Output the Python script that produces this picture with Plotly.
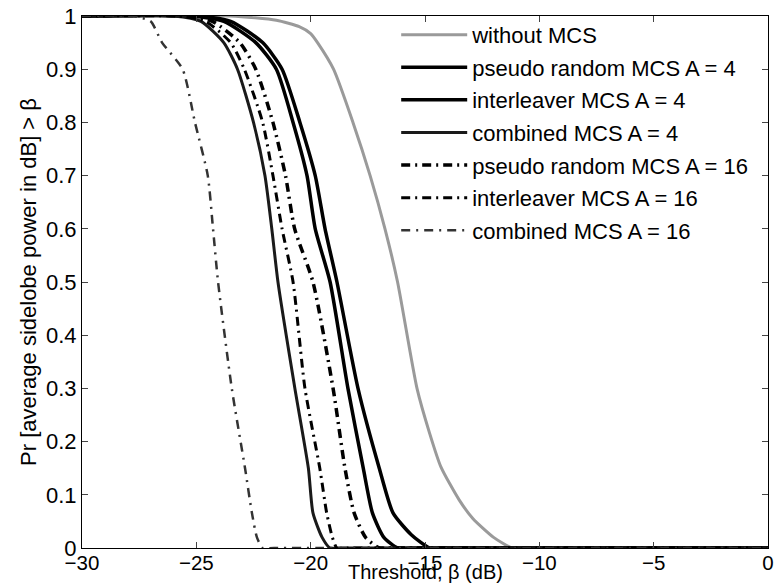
import plotly.graph_objects as go

# Threshold (dB) vs. probability that the average sidelobe power exceeds it
beta_without = [-30, -23.5, -21.5, -20.5, -20.0, -19.7, -19.0, -18.15, -17.4, -16.75, -16.2, -15.35, -14.8, -14.3, -13.5, -12.9, -12.0, -11.2, -10.6, 0]
p_without = [1, 1, 0.992, 0.98, 0.967, 0.95, 0.9, 0.8, 0.7, 0.6, 0.5, 0.3, 0.216, 0.152, 0.09, 0.055, 0.02, 0.0, 0, 0]

beta_pr4 = [-30, -25.0, -23.5, -22.1, -21.25, -20.47, -19.8, -19.37, -18.85, -17.93, -17.0, -16.4, -15.6, -14.8, -14.3, 0]
p_pr4 = [1, 1, 0.99, 0.95, 0.9, 0.8, 0.7, 0.6, 0.5, 0.3, 0.15, 0.066, 0.025, 0, 0, 0]

beta_il4 = [-30, -25.3, -23.8, -22.4, -21.5, -20.77, -20.16, -19.8, -19.15, -18.37, -17.7, -17.3, -16.8, -16.2, -15.7, 0]
p_il4 = [1, 1, 0.99, 0.95, 0.9, 0.8, 0.7, 0.6, 0.5, 0.3, 0.15, 0.066, 0.02, 0, 0, 0]

beta_cb4 = [-30, -26.0, -24.8, -23.8, -23.2, -22.5, -22.0, -21.7, -21.43, -20.69, -20.1, -19.9, -19.5, -19.15, -18.7, 0]
p_cb4 = [1, 1, 0.99, 0.95, 0.9, 0.8, 0.7, 0.6, 0.5, 0.3, 0.15, 0.066, 0.02, 0, 0, 0]

beta_pr16 = [-30, -25.6, -24.3, -23.1, -22.4, -21.65, -21.1, -20.7, -19.9, -19.02, -18.5, -18.1, -17.6, -17.0, -16.5, 0]
p_pr16 = [1, 1, 0.99, 0.95, 0.9, 0.8, 0.7, 0.6, 0.5, 0.3, 0.15, 0.066, 0.02, 0, 0, 0]

beta_il16 = [-30, -25.8, -24.6, -23.5, -22.9, -22.1, -21.65, -21.25, -20.77, -20.25, -19.6, -19.3, -19.05, -18.85, -18.4, 0]
p_il16 = [1, 1, 0.99, 0.95, 0.9, 0.8, 0.7, 0.6, 0.5, 0.3, 0.15, 0.066, 0.02, 0, 0, 0]

beta_cb16 = [-30, -27.8, -27.0, -26.5, -25.6, -25.06, -24.5, -24.27, -24.05, -23.45, -22.87, -22.57, -22.35, -22.1, -21.6, 0]
p_cb16 = [1, 1, 0.99, 0.95, 0.9, 0.8, 0.7, 0.6, 0.5, 0.3, 0.15, 0.066, 0.02, 0, 0, 0]

x_ticks = [-30, -25, -20, -15, -10, -5, 0]
y_ticks = [0, 0.1, 0.2, 0.3, 0.4, 0.5, 0.6, 0.7, 0.8, 0.9, 1]
y_labels = ["0", "0.1", "0.2", "0.3", "0.4", "0.5", "0.6", "0.7", "0.8", "0.9", "1"]

series = [
    ("without MCS", beta_without, p_without, dict(color="#9a9a9a", width=3)),
    ("pseudo random MCS A = 4", beta_pr4, p_pr4, dict(color="black", width=3.5)),
    ("interleaver MCS A = 4", beta_il4, p_il4, dict(color="black", width=3.5)),
    ("combined MCS A = 4", beta_cb4, p_cb4, dict(color="#1a1a1a", width=3)),
    ("pseudo random MCS A = 16", beta_pr16, p_pr16, dict(color="black", width=3.5, dash="9px,5px,2px,5px")),
    ("interleaver MCS A = 16", beta_il16, p_il16, dict(color="black", width=3, dash="9px,5px,2px,5px")),
    ("combined MCS A = 16", beta_cb16, p_cb16, dict(color="#333333", width=2.5, dash="9px,6px,2px,6px")),
]

fig = go.Figure()
for i, (name, xs, ys, line) in enumerate(series):
    fig.add_trace(go.Scatter(x=xs, y=ys, mode="lines", name=name,
                             line=dict(shape="spline", smoothing=0.6, **line),
                             legendgroup=f"g{i}"))

font_family = "Liberation Sans, Arial, sans-serif"
fs = 22
fig.update_layout(
    width=777, height=584,
    margin=dict(l=82, r=9, t=16, b=36),
    paper_bgcolor="white", plot_bgcolor="white",
    font=dict(family=font_family, size=fs, color="black"),
    showlegend=True,
    legend=dict(x=0.458, y=1.004, xanchor="left", yanchor="top",
                bgcolor="rgba(0,0,0,0)", borderwidth=0,
                font=dict(size=fs), tracegroupgap=1, itemwidth=66),
    xaxis=dict(range=[-30, 0], tickvals=x_ticks, ticks="inside", ticklen=6,
               ticklabelstandoff=-4, tickfont=dict(size=20.5),
               showline=True, linecolor="black", linewidth=1, mirror="allticks",
               showgrid=False, zeroline=False, automargin=False),
    yaxis=dict(range=[0, 1], tickvals=y_ticks, ticktext=y_labels, ticks="inside", ticklen=6,
               showline=True, linecolor="black", linewidth=1, mirror="allticks",
               showgrid=False, zeroline=False, automargin=False,
               title=dict(text="Pr [average sidelobe power in dB] > β", standoff=3, font=dict(size=fs))),
    annotations=[dict(text="Threshold, β (dB)", xref="paper", yref="paper",
                      x=0.5, y=-0.0677, xanchor="center", yanchor="bottom",
                      showarrow=False, font=dict(size=20), borderpad=0)],
)

fig.write_html("out.html")
